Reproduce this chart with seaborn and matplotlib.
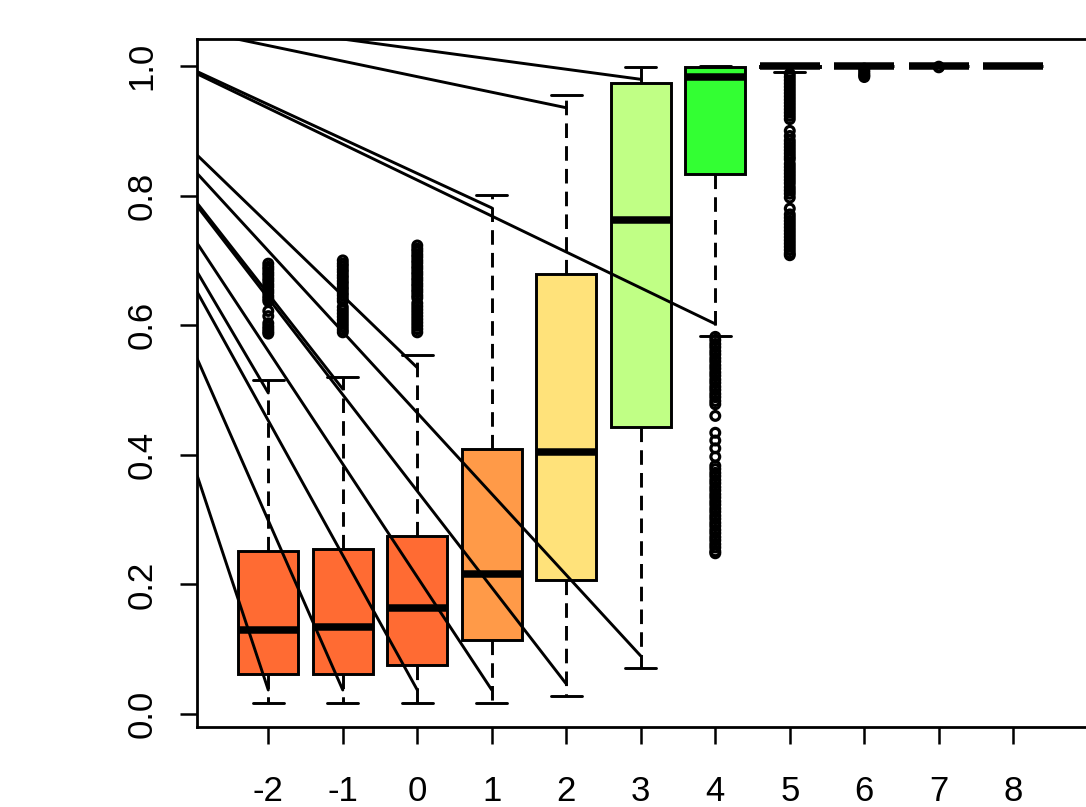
import matplotlib
matplotlib.use("Agg")
import matplotlib.pyplot as plt
import seaborn as sns
import pandas as pd

# ---------------- data ----------------
categories = ["-2", "-1", "0", "1", "2", "3", "4", "5", "6", "7", "8"]
q1     = [0.061, 0.061, 0.076, 0.114, 0.207, 0.443, 0.834, 0.9985, 1.0, 1.0, 1.0]
median = [0.130, 0.134, 0.163, 0.216, 0.405, 0.762, 0.9835, 1.0, 1.0, 1.0, 1.0]
q3     = [0.251, 0.255, 0.275, 0.409, 0.679, 0.974, 0.998, 1.0, 1.0, 1.0, 1.0]
whislo = [0.0175, 0.0175, 0.0175, 0.0175, 0.028, 0.071, 0.583, 0.990, 1.0, 1.0, 1.0]
whishi = [0.515, 0.520, 0.554, 0.801, 0.955, 0.999, 1.0, 1.0, 1.0, 1.0, 1.0]
box_colors = ["#FF6B33", "#FF6B33", "#FF6B33", "#FF9A48", "#FFE27A",
              "#C0FF85", "#33FF33", "#33FF33", "#33FF33", "#33FF33", "#33FF33"]

outliers = {
    "-2": [0.695, 0.690, 0.686, 0.681, 0.677, 0.672, 0.668, 0.663, 0.659, 0.654,
           0.650, 0.645, 0.641, 0.637,
           0.622, 0.614, 0.603, 0.598, 0.594, 0.590, 0.587],
    "-1": [0.700, 0.695, 0.691, 0.686, 0.682, 0.677, 0.673, 0.668, 0.664, 0.659,
           0.655, 0.650, 0.646, 0.641, 0.637,
           0.628, 0.623, 0.618, 0.613, 0.608, 0.603, 0.598, 0.593, 0.589],
    "0": [0.723, 0.718, 0.714, 0.709, 0.705, 0.700, 0.696, 0.691, 0.687, 0.682,
          0.678, 0.673, 0.669, 0.664, 0.660, 0.655, 0.651, 0.646, 0.642,
          0.634, 0.629, 0.624, 0.619, 0.614, 0.609, 0.604, 0.599, 0.594, 0.589],
    "4": [0.582, 0.577, 0.571, 0.566, 0.560, 0.555, 0.549, 0.544, 0.538, 0.533,
          0.527, 0.522, 0.516, 0.511, 0.505, 0.500, 0.494, 0.489, 0.483, 0.478,
          0.460,
          0.434, 0.422, 0.410, 0.397,
          0.383, 0.378, 0.372, 0.367, 0.361, 0.356, 0.350, 0.345, 0.339, 0.334,
          0.328, 0.323, 0.317, 0.312, 0.306, 0.301, 0.295, 0.290, 0.284, 0.279,
          0.273, 0.268, 0.262, 0.257, 0.251, 0.248],
    "5": [0.988, 0.983, 0.978, 0.973, 0.968, 0.963, 0.958, 0.953, 0.948, 0.943,
          0.938, 0.933, 0.928, 0.923, 0.918,
          0.900, 0.892, 0.885, 0.880, 0.875, 0.870, 0.865, 0.860, 0.856,
          0.849, 0.844, 0.839, 0.834, 0.829, 0.824, 0.819, 0.813, 0.808, 0.803, 0.797,
          0.780, 0.771, 0.766, 0.761, 0.756, 0.751, 0.746, 0.741, 0.736, 0.731,
          0.726, 0.721, 0.716, 0.711, 0.708],
    "6": [0.996, 0.993, 0.990, 0.987, 0.985, 0.983],
    "7": [0.999, 0.998],
}

# connecting lines: start on the left frame, end at a category position
line_start_y = [1.0545, 1.072, 0.9915, 0.988, 0.8627, 0.8344, 0.7886, 0.784,
                0.7269, 0.6826, 0.6517, 0.5489, 0.3688]
line_end_cat = ["2", "3", "1", "4", "0", "3", "-1", "2", "1", "-2", "0", "-1", "-2"]
line_end_y = [0.9356, 0.9795, 0.781, 0.602, 0.5344, 0.0895, 0.5015, 0.0463,
              0.037, 0.4954, 0.037, 0.037, 0.037]

y_ticks = [0.0, 0.2, 0.4, 0.6, 0.8, 1.0]
y_tick_labels = ["0.0", "0.2", "0.4", "0.6", "0.8", "1.0"]

# ---------------- figure ----------------
sns.set_theme(style="white")
plt.rcParams["font.family"] = ["Liberation Sans", "DejaVu Sans"]

W, H, DPI = 1086, 807, 100
fig = plt.figure(figsize=(W / DPI, H / DPI), dpi=DPI)
ax = fig.add_axes([197 / W, 80 / H, (1088 - 197) / W, (727 - 39) / H])

XMIN, XMAX = -0.957, 11.003
positions = list(range(len(categories)))

stats = []
for i, c in enumerate(categories):
    stats.append(dict(med=median[i], q1=q1[i], q3=q3[i], whislo=whislo[i],
                      whishi=whishi[i], fliers=[], label=c))

LW = 2.1
bp = ax.bxp(stats, positions=positions, widths=0.8, capwidths=0.42,
            patch_artist=True, showfliers=False, manage_ticks=False,
            boxprops=dict(edgecolor="black", linewidth=LW),
            medianprops=dict(color="black", linewidth=5.4, solid_capstyle="butt"),
            whiskerprops=dict(color="black", linewidth=LW, linestyle=(0, (5, 2.8))),
            capprops=dict(color="black", linewidth=LW))
for patch, col in zip(bp["boxes"], box_colors):
    patch.set_facecolor(col)
    patch.set_zorder(2)

# outliers
rows = []
for c, vals in outliers.items():
    for v in vals:
        rows.append({"pos": categories.index(c), "value": v})
df_out = pd.DataFrame(rows)
ax.scatter(df_out["pos"], df_out["value"], s=40, facecolors="none",
           edgecolors="black", linewidths=2.3, zorder=3)

# connecting lines
for y0, c, y1 in zip(line_start_y, line_end_cat, line_end_y):
    df_l = pd.DataFrame({"x": [XMIN, categories.index(c)], "y": [y0, y1]})
    sns.lineplot(data=df_l, x="x", y="y", ax=ax, color="black", linewidth=LW,
                 sort=False, estimator=None, zorder=4)

ax.set_xlim(XMIN, XMAX)
ax.set_ylim(-0.0201, 1.0417)
ax.set_xlabel("")
ax.set_ylabel("")
ax.set_xticks(positions)
ax.set_xticklabels(categories)
ax.set_yticks(y_ticks)
ax.set_yticklabels(y_tick_labels, rotation=90, va="center")

for sp in ax.spines.values():
    sp.set_visible(True)
    sp.set_color("black")
    sp.set_linewidth(2.0)

ax.tick_params(axis="both", which="both", direction="out", length=12.5,
               width=1.8, color="black", labelsize=25, labelcolor="black",
               bottom=True, left=True)
ax.tick_params(axis="x", pad=22)
ax.tick_params(axis="y", pad=15)
ax.grid(False)

fig.savefig("out.png", dpi=DPI)
